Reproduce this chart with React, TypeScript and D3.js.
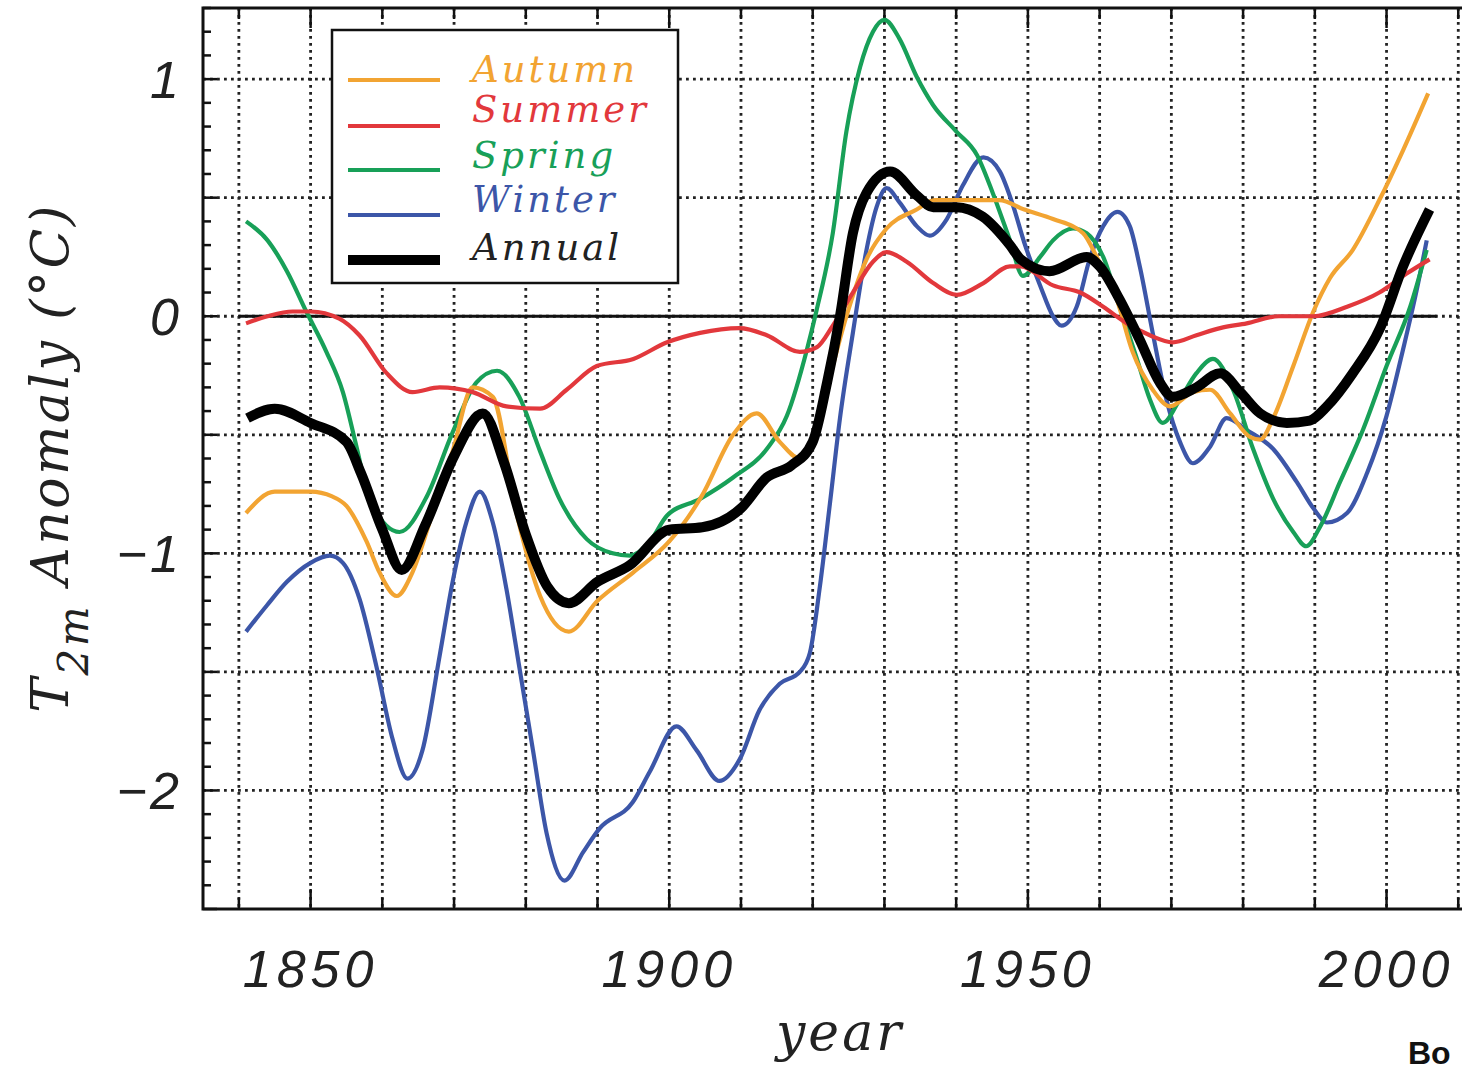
import React, { useEffect, useRef } from 'react';
import * as d3 from 'd3';

const W = 1462;
const H = 1068;

// ---- data ----
const annualYears = [1841.2, 1845, 1850, 1855, 1857, 1860, 1862.7, 1866, 1870, 1874, 1877, 1880, 1883, 1886, 1890, 1894.5, 1900, 1904.6, 1910, 1913.6, 1917, 1920, 1922, 1923.8, 1925.6, 1927.5, 1930.8, 1934.5, 1936.8, 1940, 1943.7, 1947.5, 1949, 1953, 1958.2, 1960, 1962.8, 1965.6, 1968.4, 1970.2, 1973.5, 1976.8, 1979.6, 1982.4, 1986.1, 1989.3, 1991.7, 1995.3, 1999.1, 2002.3, 2006];
const annualValues = [-0.43, -0.39, -0.45, -0.53, -0.66, -0.90, -1.07, -0.88, -0.59, -0.41, -0.62, -0.92, -1.14, -1.21, -1.12, -1.05, -0.90, -0.89, -0.81, -0.68, -0.63, -0.53, -0.28, 0.0, 0.35, 0.52, 0.61, 0.51, 0.46, 0.46, 0.42, 0.30, 0.24, 0.19, 0.25, 0.21, 0.07, -0.10, -0.28, -0.34, -0.30, -0.24, -0.32, -0.41, -0.45, -0.44, -0.38, -0.24, -0.05, 0.21, 0.45];

const autumnYears = [1841, 1845, 1850, 1853, 1855, 1857.8, 1859.6, 1862, 1864.2, 1867, 1869.8, 1872.6, 1875.4, 1878.7, 1882, 1886, 1890, 1895, 1900, 1904.5, 1908.9, 1912.2, 1915.4, 1918.2, 1921, 1922.8, 1924.7, 1927.5, 1930.3, 1934.5, 1937, 1940, 1946, 1949.5, 1953.5, 1957.7, 1959.6, 1962.4, 1964.6, 1967.4, 1969.8, 1973, 1975.4, 1978.2, 1981, 1982.4, 1984.2, 1987, 1989.8, 1992.1, 1995.3, 1999, 2002.3, 2005.8];
const autumnValues = [-0.83, -0.74, -0.74, -0.76, -0.80, -0.95, -1.08, -1.18, -1.08, -0.83, -0.57, -0.30, -0.34, -0.83, -1.18, -1.33, -1.20, -1.08, -0.95, -0.76, -0.50, -0.41, -0.53, -0.60, -0.42, -0.21, 0.0, 0.24, 0.37, 0.45, 0.49, 0.49, 0.49, 0.45, 0.41, 0.35, 0.25, 0.07, -0.15, -0.31, -0.38, -0.32, -0.31, -0.41, -0.51, -0.52, -0.43, -0.21, 0.02, 0.16, 0.28, 0.49, 0.70, 0.94];

const summerYears = [1841, 1844, 1847.5, 1850, 1854, 1856.8, 1860.6, 1864.2, 1868, 1872.6, 1877.3, 1882, 1885.7, 1889.9, 1895, 1899.7, 1904.3, 1909.8, 1913.6, 1918.2, 1920.6, 1922.8, 1925.6, 1928.4, 1930.3, 1933.1, 1936.8, 1940.1, 1943.8, 1947.5, 1949, 1953.5, 1957.3, 1960.5, 1963.8, 1967, 1970.2, 1973.5, 1976.8, 1980.5, 1985, 1989.8, 1994.5, 1999, 2002.8, 2006];
const summerValues = [-0.03, 0.0, 0.02, 0.02, -0.01, -0.08, -0.24, -0.32, -0.30, -0.32, -0.38, -0.39, -0.31, -0.21, -0.18, -0.11, -0.07, -0.05, -0.08, -0.15, -0.13, -0.04, 0.10, 0.23, 0.27, 0.23, 0.14, 0.09, 0.14, 0.21, 0.21, 0.13, 0.10, 0.04, -0.03, -0.08, -0.11, -0.08, -0.05, -0.03, 0.0, 0.0, 0.04, 0.10, 0.18, 0.24];

const springYears = [1841, 1844, 1846.7, 1849.4, 1852.2, 1854.5, 1856.4, 1858.2, 1862.4, 1866.2, 1869.8, 1873.1, 1876, 1879.1, 1882, 1884.7, 1888.5, 1892.1, 1894.5, 1897.3, 1899.7, 1904.3, 1908.9, 1913.6, 1916.4, 1919.2, 1920.5, 1922.8, 1924.7, 1926.6, 1928.4, 1930, 1932.1, 1934.5, 1936.8, 1940, 1942.9, 1945.1, 1947.5, 1949.3, 1951.7, 1953.5, 1956.3, 1958.2, 1960.5, 1962.8, 1965.2, 1967, 1968.8, 1971.2, 1973.5, 1975.8, 1978.6, 1981.4, 1984.2, 1987, 1988.8, 1990.7, 1993.5, 1996.7, 2000, 2003.3, 2005.6];
const springValues = [0.40, 0.32, 0.19, 0.02, -0.15, -0.32, -0.55, -0.77, -0.91, -0.76, -0.49, -0.28, -0.23, -0.34, -0.57, -0.77, -0.94, -1.0, -1.01, -0.95, -0.84, -0.77, -0.68, -0.56, -0.42, -0.14, 0.02, 0.35, 0.78, 1.05, 1.20, 1.25, 1.17, 1.01, 0.89, 0.78, 0.68, 0.52, 0.32, 0.17, 0.25, 0.32, 0.37, 0.35, 0.25, 0.04, -0.18, -0.35, -0.45, -0.35, -0.24, -0.18, -0.31, -0.56, -0.77, -0.91, -0.97, -0.89, -0.70, -0.48, -0.21, 0.04, 0.28];

const winterYears = [1841, 1843.9, 1846.7, 1850, 1852.7, 1854.5, 1856.8, 1859.2, 1861.4, 1863.5, 1865.6, 1868, 1869.8, 1871.7, 1873.6, 1875.4, 1877.3, 1879.1, 1881, 1882.9, 1885.4, 1888, 1890.3, 1894.9, 1897.3, 1901, 1903.8, 1907, 1909.8, 1912.6, 1915.4, 1918.2, 1919.6, 1921, 1922.4, 1923.8, 1925.6, 1927.5, 1928.9, 1930.3, 1932.1, 1934.5, 1936.3, 1938.7, 1940.9, 1943.8, 1946.1, 1947.9, 1949.5, 1951.7, 1953.5, 1954.7, 1956.8, 1958.6, 1960.5, 1962.5, 1964.2, 1965.6, 1967.4, 1969.3, 1971.2, 1973, 1975.4, 1977.7, 1980.5, 1984.2, 1987.5, 1989.8, 1991.7, 1994.5, 1997.3, 2000, 2002.3, 2004.2, 2005.6];
const winterValues = [-1.33, -1.22, -1.12, -1.04, -1.01, -1.04, -1.19, -1.48, -1.78, -1.95, -1.83, -1.43, -1.12, -0.87, -0.74, -0.87, -1.15, -1.48, -1.83, -2.18, -2.38, -2.26, -2.16, -2.05, -1.92, -1.73, -1.83, -1.96, -1.87, -1.66, -1.55, -1.50, -1.42, -1.14, -0.79, -0.43, -0.07, 0.28, 0.46, 0.54, 0.48, 0.38, 0.34, 0.41, 0.55, 0.67, 0.61, 0.47, 0.31, 0.13, 0.0, -0.04, 0.04, 0.24, 0.38, 0.44, 0.38, 0.21, -0.07, -0.35, -0.53, -0.62, -0.55, -0.43, -0.48, -0.56, -0.70, -0.81, -0.87, -0.83, -0.66, -0.42, -0.14, 0.11, 0.32];

const seriesNames = ['Autumn', 'Summer', 'Spring', 'Winter', 'Annual'];
const seriesColors = ['#F2A432', '#E2383C', '#18A058', '#3C56A8', '#000000'];

const xTickYears = [1840, 1850, 1860, 1870, 1880, 1890, 1900, 1910, 1920, 1930, 1940, 1950, 1960, 1970, 1980, 1990, 2000, 2010];
const xLabelYears = [1850, 1900, 1950, 2000];
const yGridValues = [-2, -1.5, -1, -0.5, 0, 0.5, 1];
const yLabelValues = [-2, -1, 0, 1];

export default function App() {
  const ref = useRef<SVGSVGElement>(null);

  useEffect(() => {
    document.body.style.margin = '0';
    const svg = d3.select(ref.current);
    svg.selectAll('*').remove();

    const x = d3.scaleLinear().domain([1835, 2012]).range([203, 203 + 177 * 7.173]);
    const y = d3.scaleLinear().domain([-2.5, 1.3]).range([909, 8]);
    const left = x(1835), right = x(2012), top = y(1.3), bottom = y(-2.5);

    svg.append('rect').attr('width', W).attr('height', H).attr('fill', '#fff');

    const defs = svg.append('defs');
    defs.append('clipPath').attr('id', 'plotclip').append('rect')
      .attr('x', left).attr('y', top).attr('width', right - left).attr('height', bottom - top);

    const grid = svg.append('g').attr('stroke', '#222').attr('stroke-width', 2.8).attr('stroke-dasharray', '2.8 4.2');
    xTickYears.forEach(yr => {
      grid.append('line').attr('x1', x(yr)).attr('x2', x(yr)).attr('y1', top).attr('y2', bottom);
    });
    yGridValues.forEach(v => {
      grid.append('line').attr('x1', left).attr('x2', right).attr('y1', y(v)).attr('y2', y(v));
    });

    // zero line
    svg.append('line').attr('x1', x(1840)).attr('x2', x(2007)).attr('y1', y(0)).attr('y2', y(0))
      .attr('stroke', '#111').attr('stroke-width', 2.8);

    // ticks
    const ticks = svg.append('g').attr('stroke', '#111').attr('stroke-width', 2.5);
    xTickYears.forEach(yr => {
      const len = xLabelYears.includes(yr) ? 20 : 11;
      ticks.append('line').attr('x1', x(yr)).attr('x2', x(yr)).attr('y1', bottom).attr('y2', bottom - len);
      ticks.append('line').attr('x1', x(yr)).attr('x2', x(yr)).attr('y1', top).attr('y2', top + len);
    });
    d3.range(-25, 14).forEach(i => {
      const v = i / 10;
      const major = i % 5 === 0;
      ticks.append('line').attr('x1', left).attr('x2', left + (major ? 14 : 8)).attr('y1', y(v)).attr('y2', y(v));
    });

    // lines
    const line = d3.line<[number, number]>().x(d => x(d[0])).y(d => y(d[1])).curve(d3.curveMonotoneX);
    const allYears = [autumnYears, summerYears, springYears, winterYears, annualYears];
    const allValues = [autumnValues, summerValues, springValues, winterValues, annualValues];
    const lg = svg.append('g').attr('clip-path', 'url(#plotclip)').attr('fill', 'none')
      .attr('stroke-linejoin', 'round').attr('stroke-linecap', 'butt');
    const drawOrder = [3, 2, 0, 1, 4];
    drawOrder.forEach(i => {
      const pts = allYears[i].map((yr, k) => [yr, allValues[i][k]] as [number, number]);
      lg.append('path').attr('d', line(pts) as string)
        .attr('stroke', seriesColors[i]).attr('stroke-width', i === 4 ? 10 : 4.2);
    });

    // frame
    svg.append('rect').attr('x', left).attr('y', top).attr('width', right - left).attr('height', bottom - top)
      .attr('fill', 'none').attr('stroke', '#111').attr('stroke-width', 3);

    // legend
    const leg = svg.append('g');
    leg.append('rect').attr('x', 332).attr('y', 30).attr('width', 346).attr('height', 253)
      .attr('fill', '#fff').attr('stroke', '#111').attr('stroke-width', 2.5);
    const legY = [80, 126, 170, 215, 260];
    const legBase = [82, 122, 168, 212, 260];
    seriesNames.forEach((name, i) => {
      leg.append('line').attr('x1', 348).attr('x2', 440).attr('y1', legY[i]).attr('y2', legY[i])
        .attr('stroke', seriesColors[i]).attr('stroke-width', i === 4 ? 10 : 4);
      leg.append('text').attr('x', 472).attr('y', legBase[i]).text(name)
        .attr('fill', i === 4 ? '#222' : seriesColors[i])
        .attr('font-family', 'DejaVu Serif').attr('font-style', 'italic')
        .attr('font-size', 37).attr('letter-spacing', 3);
    });

    // tick labels
    const labelFont = (sel: any) => sel.attr('font-family', 'Liberation Sans').attr('font-style', 'italic')
      .attr('font-size', 52).attr('fill', '#222');
    xLabelYears.forEach(yr => {
      labelFont(svg.append('text')).attr('x', x(yr)).attr('y', 987).attr('text-anchor', 'middle')
        .attr('letter-spacing', 5).text(String(yr));
    });
    yLabelValues.forEach(v => {
      labelFont(svg.append('text')).attr('x', 182).attr('y', y(v) + 19).attr('text-anchor', 'end')
        .attr('letter-spacing', 3).text(v < 0 ? '\u2212' + Math.abs(v) : String(v));
    });

    // axis titles
    svg.append('text').attr('x', 840).attr('y', 1050).attr('text-anchor', 'middle')
      .attr('font-family', 'DejaVu Serif').attr('font-style', 'italic').attr('font-size', 52)
      .attr('letter-spacing', 3).attr('fill', '#222').text('year');

    const yt = svg.append('text').attr('transform', 'translate(68,458) rotate(-90)').attr('text-anchor', 'middle')
      .attr('font-family', 'DejaVu Serif').attr('font-style', 'italic').attr('font-size', 52)
      .attr('letter-spacing', 2.5).attr('fill', '#222');
    yt.append('tspan').text('T');
    yt.append('tspan').attr('dy', 20).attr('font-size', 42).text('2m');
    yt.append('tspan').attr('dy', -20).text(' Anomaly (°C)');

    svg.append('text').attr('x', 1408).attr('y', 1064).attr('font-family', 'Liberation Sans')
      .attr('font-weight', 'bold').attr('font-size', 32).attr('fill', '#111').text('Bo');
  }, []);

  return <svg ref={ref} width={W} height={H} style={{ display: 'block' }} />;
}
